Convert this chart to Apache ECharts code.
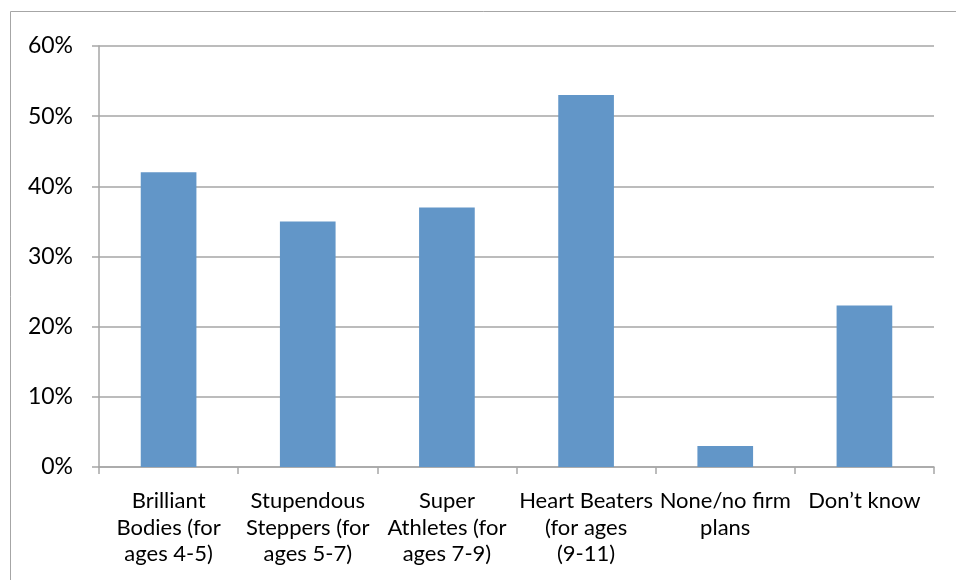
<!DOCTYPE html>
<html>
<head>
<meta charset="utf-8">
<script src="https://cdn.jsdelivr.net/npm/echarts@6/dist/echarts.min.js"></script>
<style>
  html, body { margin: 0; padding: 0; background: #fff; }
  #chart { width: 956px; height: 580px; }
</style>
</head>
<body>
<div id="chart"></div>
<script>
// Programme choices, share of respondents (%)
const categories = [
  'Brilliant\nBodies (for\nages 4-5)',
  'Stupendous\nSteppers (for\nages 5-7)',
  'Super\nAthletes (for\nages 7-9)',
  'Heart Beaters\n(for ages\n(9-11)',
  'None/no firm\nplans',
  'Don\u2019t know'
];
const shares = [42, 35, 37, 53, 3, 23];
const yTicks = { min: 0, max: 60, step: 10 };

const axisGrey = '#a6a6a6';
const font = 'Lato, "Open Sans", sans-serif';

const chart = echarts.init(document.getElementById('chart'), null, { renderer: 'canvas' });
chart.setOption({
  animation: false,
  backgroundColor: '#ffffff',
  graphic: [{
    type: 'rect',
    shape: { x: 10.5, y: 11.5, width: 1200, height: 1200 },
    style: { fill: 'none', stroke: axisGrey, lineWidth: 1 },
    silent: true
  }],
  grid: { left: 99, right: 22, top: 46, bottom: 113, containLabel: false },
  xAxis: {
    type: 'category',
    data: categories,
    axisLine: { show: true, lineStyle: { color: axisGrey, width: 1.5 } },
    axisTick: { show: true, length: 7, alignWithLabel: false, lineStyle: { color: axisGrey, width: 1.5 } },
    axisLabel: {
      interval: 0,
      margin: 21,
      color: '#000',
      fontFamily: font,
      fontSize: 22,
      lineHeight: 26.5,
      align: 'center'
    },
    splitLine: { show: false }
  },
  yAxis: {
    type: 'value',
    min: yTicks.min,
    max: yTicks.max,
    interval: yTicks.step,
    axisLine: { show: true, lineStyle: { color: axisGrey, width: 1.5 } },
    axisTick: { show: true, inside: false, length: 7, lineStyle: { color: axisGrey, width: 1.5 } },
    axisLabel: {
      formatter: '{value}%',
      margin: 26,
      color: '#000',
      fontFamily: font,
      fontSize: 23
    },
    splitLine: { show: true, lineStyle: { color: axisGrey, width: 1.5 } }
  },
  series: [{
    type: 'bar',
    data: shares,
    barWidth: '40%',
    itemStyle: { color: '#6296c8' },
    label: { show: false }
  }]
});
</script>
</body>
</html>
